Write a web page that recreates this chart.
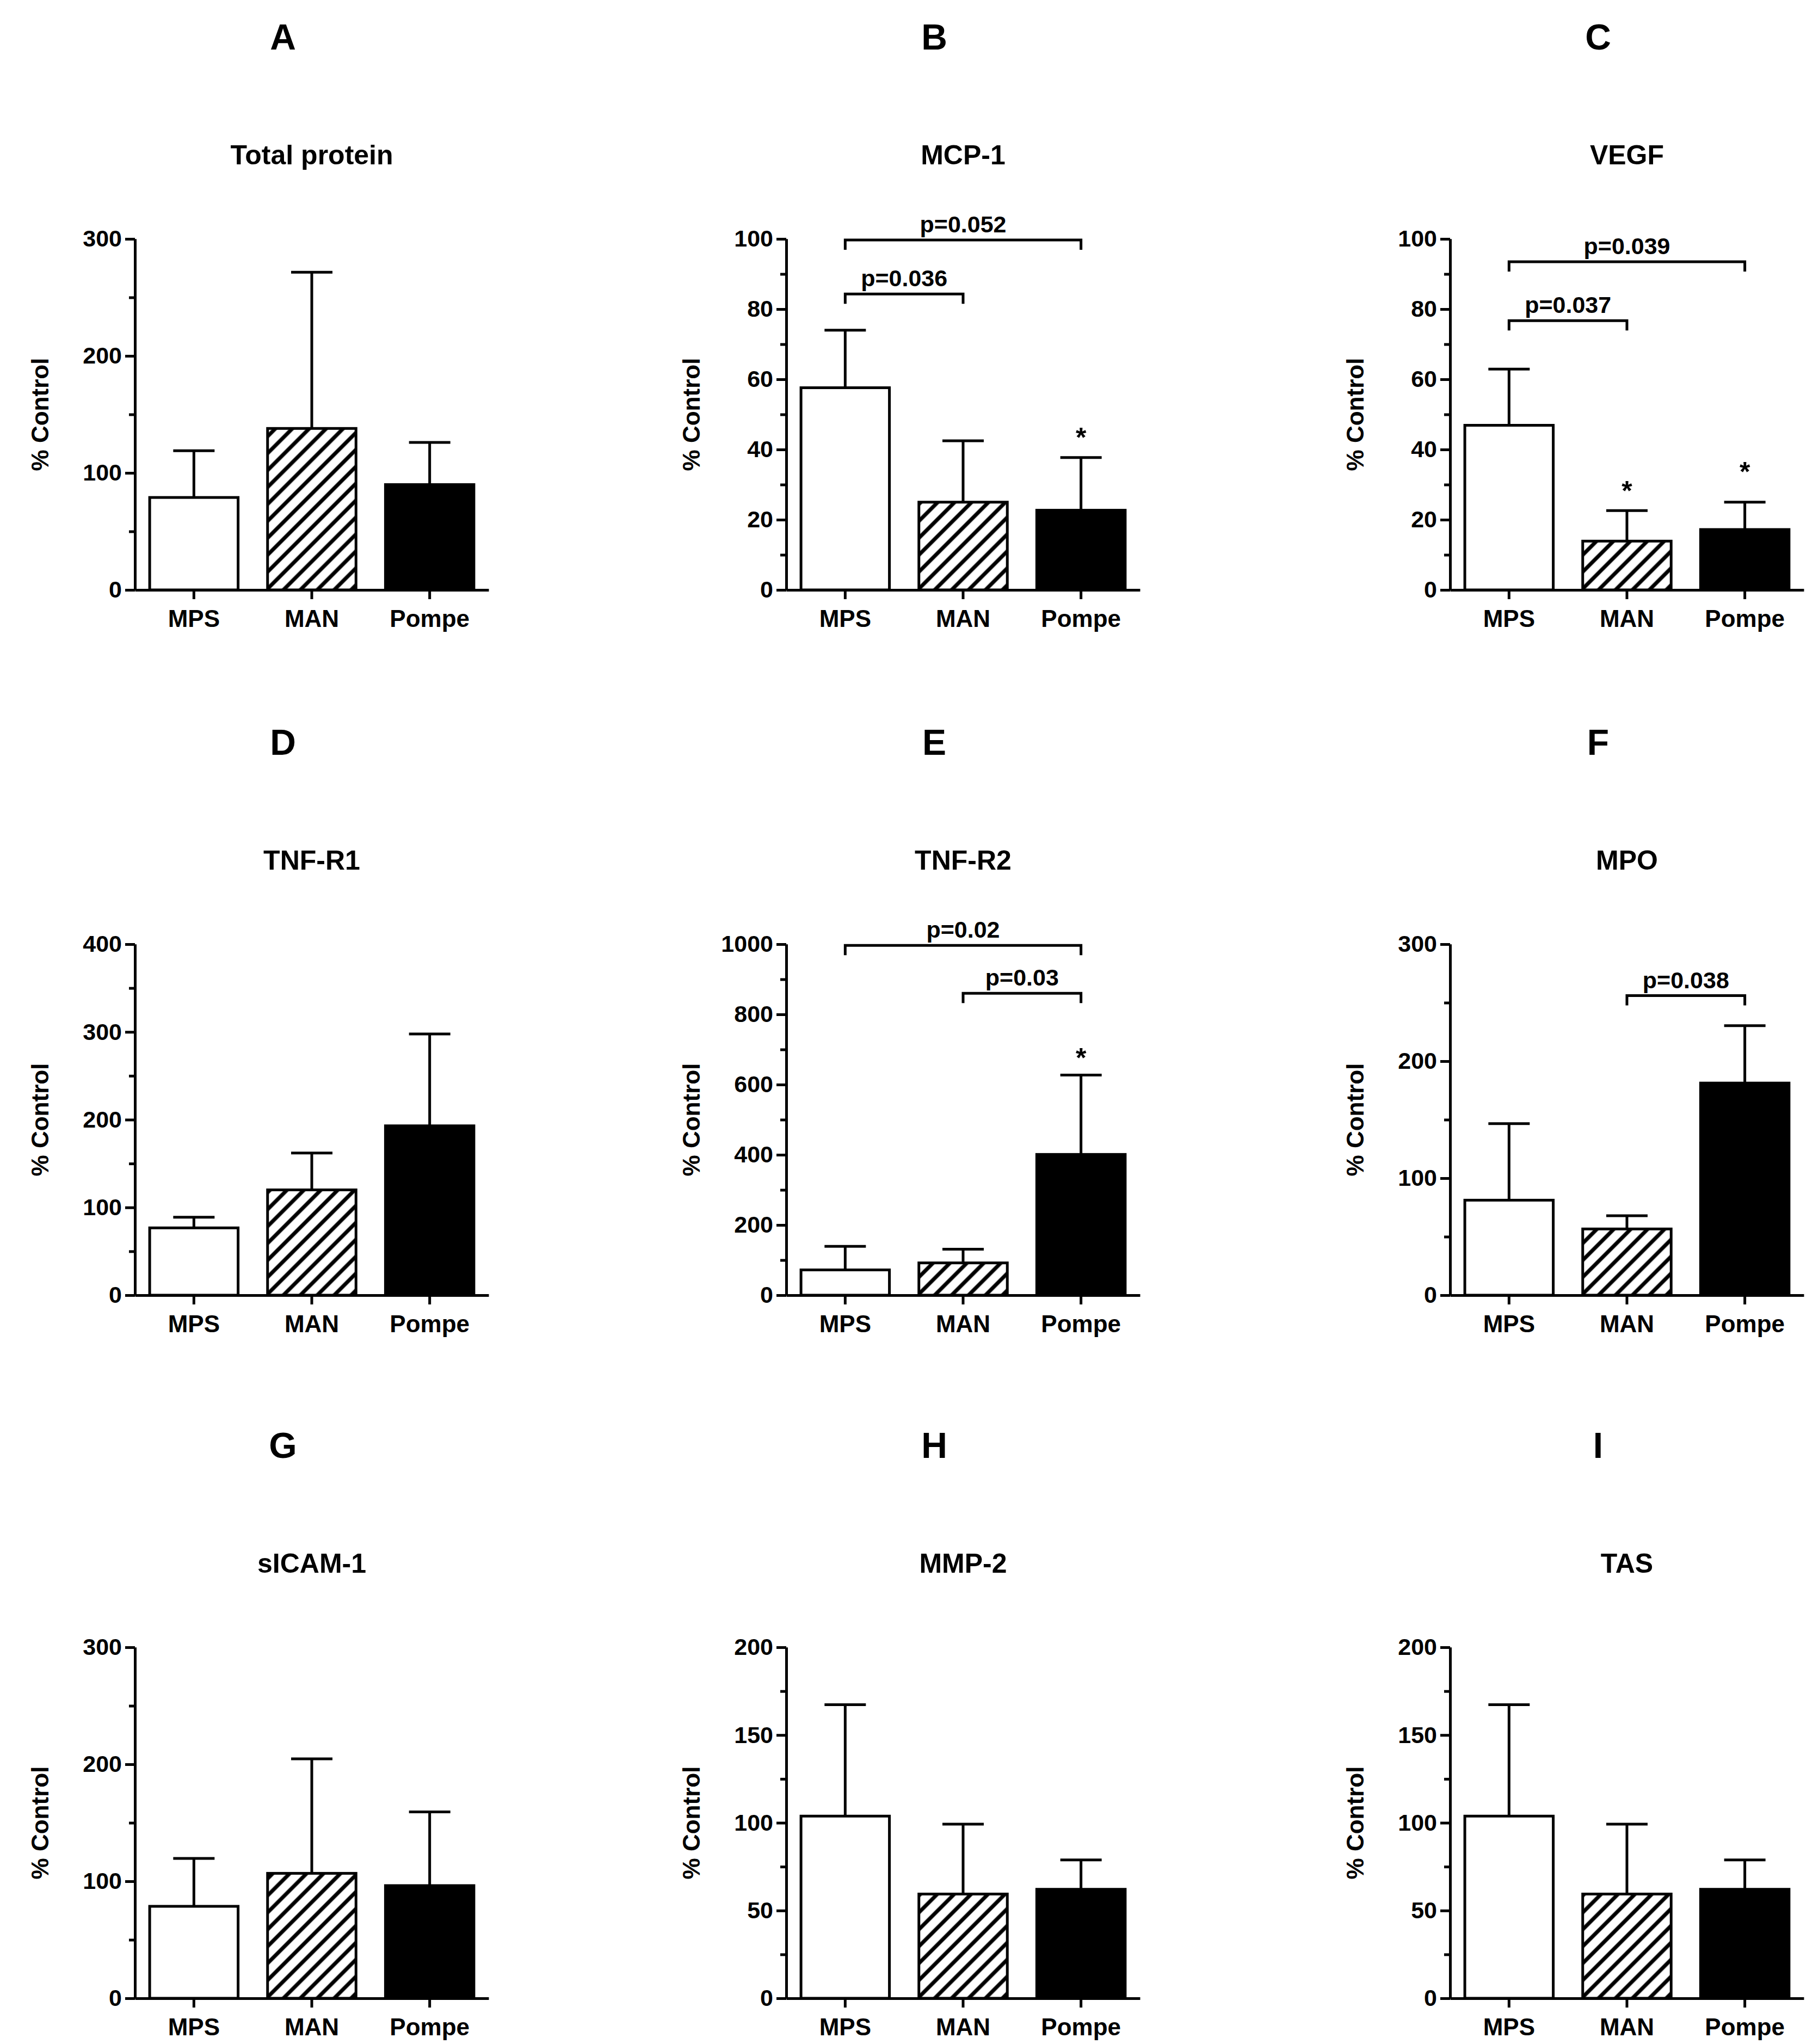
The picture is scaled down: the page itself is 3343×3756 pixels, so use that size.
<!DOCTYPE html>
<html>
<head>
<meta charset="utf-8">
<script src="https://cdn.jsdelivr.net/npm/d3@7"></script>
<style>
  body { margin: 0; background: #fff; }
  text { font-family: "Liberation Sans", Arial, sans-serif; font-weight: bold; fill: #000; }
</style>
</head>
<body>
<div id="chart"></div>
<script>
/* data */
const groups = ["MPS", "MAN", "Pompe"];
const panelLetters = ["A", "B", "C", "D", "E", "F", "G", "H", "I"];
const panelTitles = ["Total protein", "MCP-1", "VEGF", "TNF-R1", "TNF-R2", "MPO", "sICAM-1", "MMP-2", "TAS"];
const yMax = [300, 100, 100, 400, 1000, 300, 300, 200, 200];
const yStep = [100, 20, 20, 100, 200, 100, 100, 50, 50];

const means = [
  [79, 138, 90],
  [57.6, 25, 22.7],
  [46.9, 13.9, 17.2],
  [76.7, 120, 193],
  [72, 92, 401],
  [81.2, 56.6, 181.3],
  [78.6, 106.8, 96.3],
  [103.8, 59.4, 62.1],
  [103.8, 59.4, 62.1]
];
// top of each error bar (mean + SD)
const upper = [
  [119, 271.5, 126],
  [74, 42.5, 37.7],
  [62.9, 22.6, 25],
  [88.8, 162, 297.7],
  [139, 131, 627],
  [146.6, 67.9, 230.3],
  [119.5, 204.7, 159.3],
  [167.3, 99.2, 78.8],
  [167.3, 99.2, 78.8]
];

// significance stars: panel index, group, value where the star sits
const stars = [
  { panel: 1, group: "Pompe", value: 45 },
  { panel: 2, group: "MAN", value: 29.8 },
  { panel: 2, group: "Pompe", value: 35.2 },
  { panel: 4, group: "Pompe", value: 692 }
];

// p-value brackets
const brackets = [
  { panel: 1, from: "MPS", to: "Pompe", value: 99.7, label: "p=0.052" },
  { panel: 1, from: "MPS", to: "MAN", value: 84.3, label: "p=0.036" },
  { panel: 2, from: "MPS", to: "Pompe", value: 93.5, label: "p=0.039" },
  { panel: 2, from: "MPS", to: "MAN", value: 76.7, label: "p=0.037" },
  { panel: 4, from: "MPS", to: "Pompe", value: 996.6, label: "p=0.02" },
  { panel: 4, from: "MAN", to: "Pompe", value: 860, label: "p=0.03" },
  { panel: 5, from: "MAN", to: "Pompe", value: 256, label: "p=0.038" }
];

/* layout */
let width = 3343;
let height = 3756;
let colX = [248, 1445, 2665];
let rowY = [439, 1735, 3027];
let plotW = 650;
let plotH = 645;
let lineW = 5;

let svg = d3
  .select("#chart")
  .append("svg")
  .attr("width", width)
  .attr("height", height)
  .style("background", "#fff");

/* hatch pattern for MAN */
svg
  .append("defs")
  .append("pattern")
  .attr("id", "hatch")
  .attr("patternUnits", "userSpaceOnUse")
  .attr("width", 22)
  .attr("height", 22)
  .attr("patternTransform", "rotate(45)")
  .call(p => {
    p.append("rect").attr("width", 22).attr("height", 22).attr("fill", "#fff");
    p.append("line")
      .attr("x1", 11).attr("y1", 0)
      .attr("x2", 11).attr("y2", 22)
      .attr("stroke", "#000")
      .attr("stroke-width", 7);
  });

let fills = { MPS: "#fff", MAN: "url(#hatch)", Pompe: "#000" };

panelTitles.forEach((title, i) => {
  let x0 = colX[i % 3];
  let y0 = rowY[Math.floor(i / 3)];

  let g = svg.append("g").attr("transform", `translate(${x0}, ${y0})`);

  let xScale = d3
    .scaleBand()
    .domain(groups)
    .range([0, plotW])
    .paddingInner(0.25)
    .paddingOuter(0.125);

  let yScale = d3
    .scaleLinear()
    .domain([0, yMax[i]])
    .range([plotH, 0]);

  let majorTicks = d3.range(0, yMax[i] + yStep[i] / 2, yStep[i]);
  let minorTicks = d3.range(yStep[i] / 2, yMax[i], yStep[i]);

  /* panel letter and title */
  g.append("text")
    .attr("x", 272)
    .attr("y", -372)
    .attr("dy", "0.36em")
    .attr("text-anchor", "middle")
    .style("font-size", "66px")
    .text(panelLetters[i]);

  g.append("text")
    .attr("x", plotW / 2)
    .attr("y", -155)
    .attr("dy", "0.36em")
    .attr("text-anchor", "middle")
    .style("font-size", "50px")
    .text(title);

  /* bars */
  g.selectAll(".bar")
    .data(groups)
    .enter()
    .append("rect")
    .attr("class", "bar")
    .attr("x", d => xScale(d))
    .attr("y", (d, j) => yScale(means[i][j]))
    .attr("width", xScale.bandwidth())
    .attr("height", (d, j) => plotH - yScale(means[i][j]))
    .attr("fill", d => fills[d])
    .attr("stroke", "#000")
    .attr("stroke-width", lineW);

  /* error bars, upper half only */
  let capW = 76;
  groups.forEach((d, j) => {
    let cx = xScale(d) + xScale.bandwidth() / 2;
    g.append("path")
      .attr("d", `M${cx},${yScale(means[i][j])}V${yScale(upper[i][j])}M${cx - capW / 2},${yScale(upper[i][j])}H${cx + capW / 2}`)
      .attr("fill", "none")
      .attr("stroke", "#000")
      .attr("stroke-width", lineW);
  });

  /* axes */
  let yAxis = d3
    .axisLeft(yScale)
    .tickValues(majorTicks)
    .tickSize(18)
    .tickSizeOuter(0)
    .tickPadding(6)
    .tickFormat(d3.format("d"));

  let yMinor = d3
    .axisLeft(yScale)
    .tickValues(minorTicks)
    .tickSize(11)
    .tickSizeOuter(0)
    .tickFormat("");

  let xAxis = d3
    .axisBottom(xScale)
    .tickSize(17)
    .tickSizeOuter(0)
    .tickPadding(20);

  g.append("g").attr("class", "y axis").call(yMinor);
  g.append("g").attr("class", "y axis").call(yAxis)
    .selectAll("text").style("font-size", "43px");

  g.append("g")
    .attr("class", "x axis")
    .attr("transform", `translate(0, ${plotH})`)
    .call(xAxis)
    .selectAll("text")
    .style("font-size", "44px");

  g.selectAll(".axis path, .axis line")
    .attr("stroke", "#000")
    .attr("stroke-width", lineW);

  g.append("text")
    .attr("transform", `translate(-175, ${plotH / 2}) rotate(-90)`)
    .attr("text-anchor", "middle")
    .attr("dy", "0.36em")
    .style("font-size", "44px")
    .text("% Control");

  /* brackets with p values */
  brackets.filter(b => b.panel === i).forEach(b => {
    let x1 = xScale(b.from) + xScale.bandwidth() / 2;
    let x2 = xScale(b.to) + xScale.bandwidth() / 2;
    let by = yScale(b.value);
    g.append("path")
      .attr("d", `M${x1},${by + 18}V${by}H${x2}V${by + 18}`)
      .attr("fill", "none")
      .attr("stroke", "#000")
      .attr("stroke-width", lineW);
    g.append("text")
      .attr("x", (x1 + x2) / 2)
      .attr("y", by - 14)
      .attr("text-anchor", "middle")
      .style("font-size", "43px")
      .text(b.label);
  });

  /* stars */
  stars.filter(s => s.panel === i).forEach(s => {
    g.append("text")
      .attr("x", xScale(s.group) + xScale.bandwidth() / 2)
      .attr("y", yScale(s.value))
      .attr("dy", "0.55em")
      .attr("text-anchor", "middle")
      .style("font-size", "50px")
      .text("*");
  });
});
</script>
</body>
</html>
